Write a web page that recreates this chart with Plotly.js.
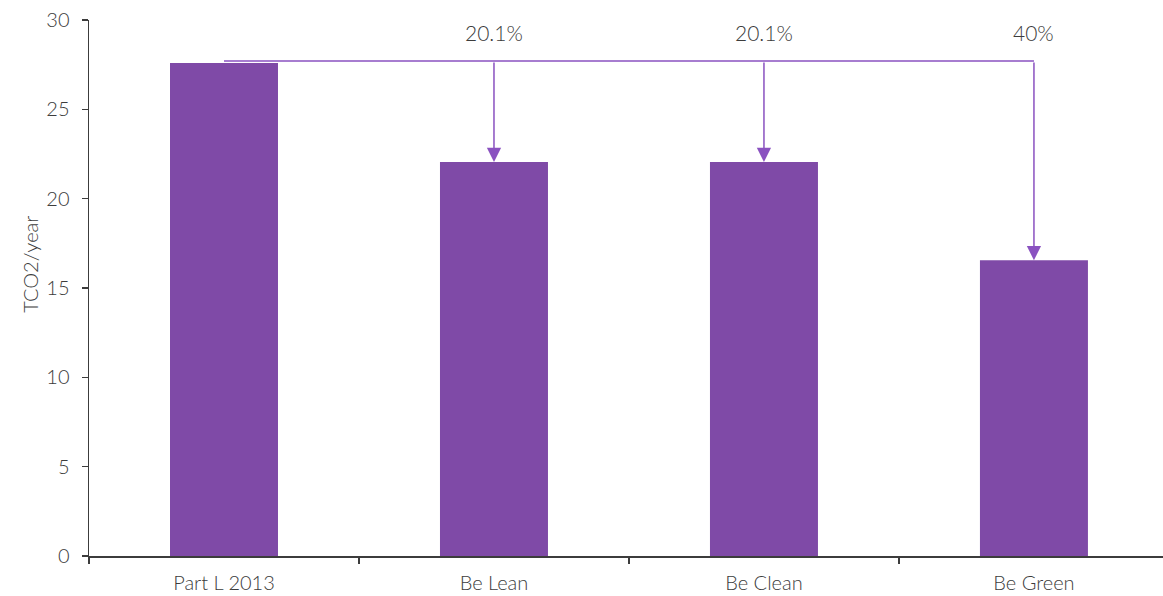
<!DOCTYPE html>
<html><head><meta charset="utf-8">
<script src="https://cdn.plot.ly/plotly-3.0.1.min.js"></script>
<style>html,body{margin:0;padding:0;background:#fff}#chart{width:1163px;height:596px}</style>
</head><body><div id="chart"></div>
<script>
const categories = ["Part L 2013", "Be Lean", "Be Clean", "Be Green"];
const values = [27.6, 22.05, 22.05, 16.55];
const reductionLabels = ["", "20.1%", "20.1%", "40%"];
const yTitle = "TCO2/year";
const baseline = values[0];

const barColor = "#7f4aa7";
const lineColor = "#8a52c0";
const textColor = "#3c3c3c";
const font = "Lato, 'Open Sans', sans-serif";

const shapes = [{
  type: "line", xref: "x", yref: "y",
  x0: 0, x1: categories.length - 1, y0: baseline + 0.1, y1: baseline + 0.1,
  line: {color: lineColor, width: 1.5}
}];
const annotations = [];
for (let i = 1; i < categories.length; i++) {
  annotations.push({
    x: i, y: values[i], xref: "x", yref: "y",
    ax: i, ay: baseline + 0.1, axref: "x", ayref: "y",
    showarrow: true, arrowhead: 2, arrowsize: 1.9, arrowwidth: 1.5,
    arrowcolor: lineColor, standoff: 0, startstandoff: 0, text: ""
  });
  annotations.push({
    x: i, y: 29.3, xref: "x", yref: "y", showarrow: false,
    text: reductionLabels[i], font: {family: font, size: 21, weight: 300, color: textColor}
  });
}
annotations.push({
  x: -0.055, y: 0.545, xref: "paper", yref: "paper", showarrow: false,
  textangle: -90, xanchor: "center", yanchor: "middle",
  text: yTitle, font: {family: font, size: 20, weight: 300, color: textColor}
});

Plotly.newPlot("chart", [{
  type: "bar", x: categories, y: values, width: 0.4,
  marker: {color: barColor}, hoverinfo: "skip"
}], {
  width: 1163, height: 596,
  margin: {l: 89, r: 0, t: 20, b: 40},
  paper_bgcolor: "#fff", plot_bgcolor: "#fff",
  showlegend: false,
  font: {family: font, color: textColor, size: 20, weight: 300},
  xaxis: {
    type: "category", range: [-0.5, 3.478],
    showline: true, linecolor: textColor, linewidth: 1.5,
    ticks: "outside", tickson: "boundaries", ticklen: 6, tickcolor: textColor, tickwidth: 1.5,
    tickfont: {family: font, size: 20, weight: 300, color: textColor},
    ticklabelstandoff: 8,
    showgrid: false, zeroline: false
  },
  yaxis: {
    range: [0, 30], dtick: 5,
    showline: true, linecolor: textColor, linewidth: 1.5,
    ticks: "outside", ticklen: 6, tickcolor: textColor, tickwidth: 1.5,
    tickfont: {family: font, size: 20, weight: 300, color: textColor},
    ticklabelstandoff: 8,
    showgrid: false, zeroline: false
  },
  shapes: shapes,
  annotations: annotations
}, {displayModeBar: false, staticPlot: true});
</script></body></html>
